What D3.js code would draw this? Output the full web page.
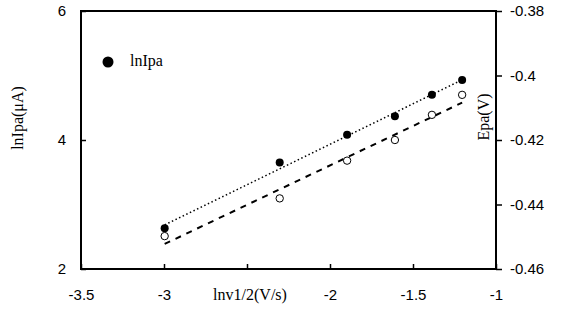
<!DOCTYPE html>
<meta charset="utf-8">
<script src="https://cdn.jsdelivr.net/npm/d3@7"></script>
<style>
    body { margin: 0; background: #fff; }
    .tick text { font-family: "Liberation Sans", Arial, sans-serif; font-size: 15px; fill: #000; }
    .tick line { stroke: #000; stroke-width: 1.5px; }
    .serif { font-family: "Liberation Serif", "Times New Roman", serif; font-size: 16px; fill: #000; }
</style>
<body>
<script>
// ln v^(1/2) values (shared x)
var lnv = [-2.996, -2.303, -1.897, -1.609, -1.386, -1.204];
// lnIpa (uA), left axis, filled points
var lnIpa = [2.63, 3.65, 4.08, 4.37, 4.70, 4.93];
// Epa (V), right axis, open points
var Epa = [-0.4498, -0.4381, -0.4264, -0.4200, -0.4122, -0.4060];

var xTicks = [-3.5, -3, -2.5, -2, -1.5, -1];
var xLabels = ["-3.5", "-3", "", "-2", "-1.5", "-1"];   // -2.5 hidden under the title
var yTicks = [2, 4, 6];
var yLabels = ["2", "4", "6"];
var y2Ticks = [-0.46, -0.44, -0.42, -0.40, -0.38];
var y2Labels = ["-0.46", "-0.44", "-0.42", "-0.4", "-0.38"];

var margin = {top: 11, right: 65, bottom: 51, left: 81},
    width = 561 - margin.left - margin.right,
    height = 320 - margin.top - margin.bottom;

var svg = d3.select("body").append("svg")
    .attr("width", 561)
    .attr("height", 320)
    .append("g")
    .attr("transform", "translate(" + margin.left + "," + margin.top + ")");

var x = d3.scaleLinear().domain([-3.5, -1]).range([0, width]);
var y = d3.scaleLinear().domain([2, 6]).range([height, 0]);
var y2 = d3.scaleLinear().domain([-0.46, -0.38]).range([height, 0]);

// axes
var gx = svg.append("g")
    .attr("transform", "translate(0," + height + ")")
    .call(d3.axisBottom(x).tickValues(xTicks).tickSizeInner(-5).tickSizeOuter(0).tickPadding(20)
        .tickFormat(function(d, i) { return xLabels[i]; }));
gx.select(".domain").remove();

var gy = svg.append("g")
    .call(d3.axisLeft(y).tickValues(yTicks).tickSizeInner(-5).tickSizeOuter(0).tickPadding(15)
        .tickFormat(function(d, i) { return yLabels[i]; }));
gy.select(".domain").remove();

var gy2 = svg.append("g")
    .attr("transform", "translate(" + width + ",0)")
    .call(d3.axisRight(y2).tickValues(y2Ticks).tickSizeInner(6).tickSizeOuter(0).tickPadding(8)
        .tickFormat(function(d, i) { return y2Labels[i]; }));
gy2.select(".domain").remove();

// frame
svg.append("rect")
    .attr("x", 0).attr("y", 0)
    .attr("width", width).attr("height", height)
    .style("fill", "none").style("stroke", "#000").style("stroke-width", "2px");

// least squares trend lines
function fit(xs, ys) {
    var mx = d3.mean(xs), my = d3.mean(ys), sxy = 0, sxx = 0;
    xs.forEach(function(v, i) { sxy += (v - mx) * (ys[i] - my); sxx += (v - mx) * (v - mx); });
    var b = sxy / sxx;
    return function(v) { return my + b * (v - mx); };
}
var x0 = d3.min(lnv), x1 = d3.max(lnv);
var f1 = fit(lnv, lnIpa), f2 = fit(lnv, Epa);

svg.append("line")
    .attr("x1", x(x0)).attr("y1", y(f1(x0)))
    .attr("x2", x(x1)).attr("y2", y(f1(x1)))
    .style("stroke", "#000").style("stroke-width", "1.5px")
    .style("stroke-dasharray", "1.5,2.5");

svg.append("line")
    .attr("x1", x(x0)).attr("y1", y2(f2(x0)))
    .attr("x2", x(x1)).attr("y2", y2(f2(x1)))
    .style("stroke", "#000").style("stroke-width", "2px")
    .style("stroke-dasharray", "6,6");

// points
svg.selectAll("circle.filled")
    .data(lnv)
    .enter().append("circle")
    .attr("class", "filled")
    .attr("cx", function(d) { return x(d); })
    .attr("cy", function(d, i) { return y(lnIpa[i]); })
    .attr("r", 4)
    .style("fill", "#000");

svg.selectAll("circle.open")
    .data(lnv)
    .enter().append("circle")
    .attr("class", "open")
    .attr("cx", function(d) { return x(d); })
    .attr("cy", function(d, i) { return y2(Epa[i]); })
    .attr("r", 3.7)
    .style("fill", "#fff").style("stroke", "#000").style("stroke-width", "1px");

// legend
svg.append("circle")
    .attr("cx", 108 - margin.left).attr("cy", 62 - margin.top)
    .attr("r", 5.5).style("fill", "#000");
svg.append("text")
    .attr("class", "serif")
    .attr("x", 130 - margin.left).attr("y", 66 - margin.top)
    .text("lnIpa");

// axis titles
svg.append("text")
    .attr("class", "serif")
    .attr("text-anchor", "middle")
    .attr("transform", "translate(" + (23 - margin.left) + "," + (118 - margin.top) + ") rotate(-90)")
    .text("lnIpa(\u03bcA)");

svg.append("text")
    .attr("class", "serif")
    .attr("text-anchor", "middle")
    .attr("transform", "translate(" + (489 - margin.left) + "," + (117 - margin.top) + ") rotate(-90)")
    .text("Epa(V)");

svg.append("text")
    .attr("class", "serif")
    .attr("text-anchor", "middle")
    .attr("x", 250 - margin.left).attr("y", 300 - margin.top)
    .text("lnv1/2(V/s)");
</script>
</body>
</html>
